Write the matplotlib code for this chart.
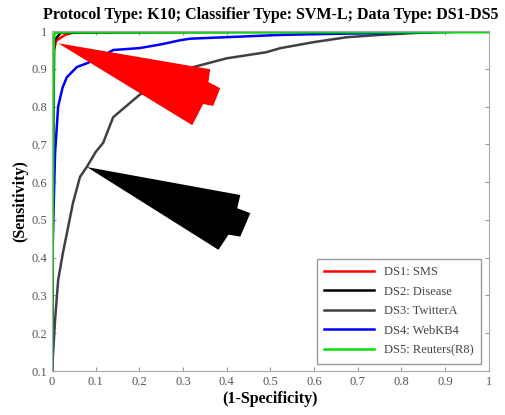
import numpy as np
import matplotlib.pyplot as plt

plt.rcParams['font.family'] = ['Liberation Serif', 'DejaVu Serif']

# ROC curves
ds1_x = [0, 0.002, 0.004, 0.01, 0.03, 0.06, 1.0]
ds1_y = [0.1, 0.5, 0.95, 0.975, 0.99, 1.0, 1.0]
ds2_x = [0, 0.002, 0.005, 0.02, 1.0]
ds2_y = [0.1, 0.6, 0.975, 0.996, 1.0]
ds3_x = [0, 0.007, 0.014, 0.025, 0.048, 0.064, 0.08, 0.1, 0.117, 0.14, 0.2, 0.25,
         0.324, 0.4, 0.49, 0.523, 0.6, 0.676, 0.75, 0.83, 0.9, 1.0]
ds3_y = [0.1, 0.235, 0.34, 0.413, 0.545, 0.614, 0.641, 0.68, 0.704, 0.772, 0.831, 0.862,
         0.905, 0.928, 0.944, 0.955, 0.971, 0.984, 0.99, 0.995, 0.998, 1.0]
ds4_x = [0, 0.0, 0.003, 0.007, 0.014, 0.024, 0.034, 0.057, 0.08, 0.11, 0.14, 0.2, 0.25,
         0.294, 0.317, 0.4, 0.523, 0.65, 0.83, 1.0]
ds4_y = [0.1, 0.35, 0.5, 0.677, 0.8, 0.85, 0.878, 0.905, 0.915, 0.93, 0.95, 0.955, 0.965,
         0.976, 0.98, 0.984, 0.99, 0.993, 0.996, 1.0]
ds5_x = [0, 0.004, 0.006, 0.02, 1.0]
ds5_y = [0.1, 0.97, 0.995, 0.997, 0.997]

labels = ['DS1: SMS', 'DS2: Disease', 'DS3: TwitterA', 'DS4: WebKB4', 'DS5: Reuters(R8)']
colors = ['#ff0000', '#000000', '#404040', '#0000ff', '#00e000']

# pasted arrow shapes on the plot
red_arrow_x = [0.014, 0.362, 0.358, 0.385, 0.369, 0.346, 0.321]
red_arrow_y = [0.968, 0.899, 0.865, 0.849, 0.802, 0.807, 0.751]
black_arrow_x = [0.080, 0.431, 0.424, 0.454, 0.431, 0.404, 0.381]
black_arrow_y = [0.640, 0.566, 0.531, 0.518, 0.456, 0.461, 0.421]

fig = plt.figure(figsize=(5.05, 4.15), dpi=100)
ax = fig.add_axes([0.103, 0.106, 0.865, 0.819])

curves = [(ds1_x, ds1_y), (ds2_x, ds2_y), (ds3_x, ds3_y), (ds4_x, ds4_y), (ds5_x, ds5_y)]
for (cx, cy), lab, col in zip(curves, labels, colors):
    ax.plot(cx, cy, color=col, lw=1.8, label=lab)

ax.fill(red_arrow_x, red_arrow_y, color='#ff0000', lw=0, zorder=5)
ax.fill(black_arrow_x, black_arrow_y, color='#000000', lw=0, zorder=5)

ax.set_xlim(0, 1)
ax.set_ylim(0.1, 1)
ax.set_xticks(np.arange(0, 1.01, 0.1))
ax.set_yticks(np.arange(0.1, 1.01, 0.1))
ax.set_xticklabels(['0', '0.1', '0.2', '0.3', '0.4', '0.5', '0.6', '0.7', '0.8', '0.9', '1'])
ax.set_yticklabels(['0.1', '0.2', '0.3', '0.4', '0.5', '0.6', '0.7', '0.8', '0.9', '1'])
ax.tick_params(direction='in', top=True, right=True, length=3, labelsize=9,
               colors='#999999', labelcolor='#555555')
for s in ax.spines.values():
    s.set_color('#aaaaaa')

ax.set_xlabel('(1-Specificity)', fontweight='bold', fontsize=11.5, labelpad=2)
ax.set_ylabel('(Sensitivity)', fontweight='bold', fontsize=11.5, labelpad=2)
ax.set_title('Protocol Type: K10; Classifier Type: SVM-L; Data Type: DS1-DS5',
             fontweight='bold', fontsize=11.5, pad=9)

leg = ax.legend(loc='lower right', fontsize=9, fancybox=False, framealpha=1,
                edgecolor='#999999', handlelength=4.0, borderaxespad=0.6,
                labelspacing=0.6, borderpad=0.6)
leg.get_frame().set_linewidth(1.0)
for t in leg.get_texts():
    t.set_color('#444444')

fig.savefig('out.png', dpi=100)
